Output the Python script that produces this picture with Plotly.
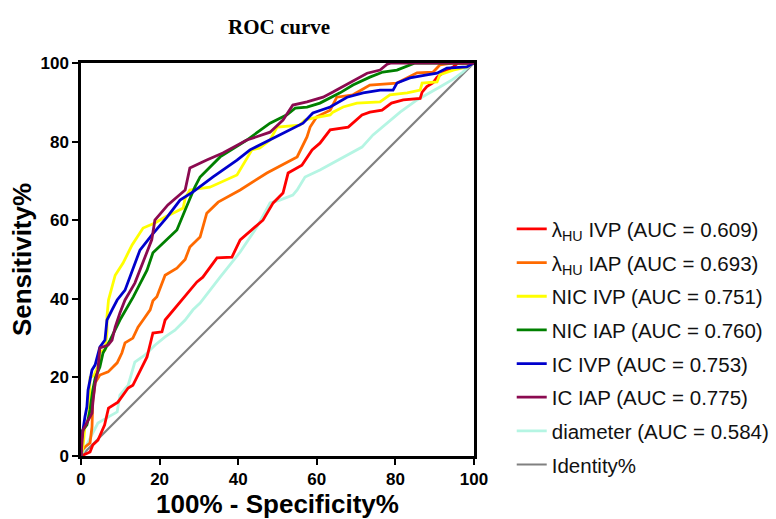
import plotly.graph_objects as go

# ROC curves: x = 100% - Specificity%, y = Sensitivity%
red_x = [0, 2.3, 3, 4.3, 6, 7, 9.4, 12, 13.2, 15.5, 16.8, 18.3, 20.6, 21.4, 24, 25.7, 29.5, 31, 34.6, 38.4, 40.5, 46.3, 48.9, 51.4, 52.7, 56.2, 58.8, 60.8, 63.4, 68, 71.5, 73.5, 76.6, 79, 82, 86.3, 86.8, 88, 89.6, 90.6, 92, 94.7, 96, 100]
red_y = [0, 1, 2.8, 4, 7.9, 12.2, 13.7, 17.3, 18, 22.7, 25.2, 31.3, 31.6, 34.6, 37.7, 39.7, 44.3, 45.5, 50.4, 50.6, 55, 60, 64.4, 66.9, 72, 74, 77.9, 79.6, 83, 83.7, 86.8, 87.5, 88, 89.8, 90.6, 91, 92.6, 94, 95, 96.4, 97.4, 99, 100, 100]

orange_x = [0, 0.3, 1, 2.3, 2.8, 3, 3.6, 4.8, 6.9, 9.2, 10.4, 11.2, 13.2, 14.5, 15.8, 17.6, 18.3, 19.3, 21.4, 24.4, 26.5, 27.7, 30.3, 32, 34.9, 40.5, 47.3, 55, 57.5, 58.3, 60, 63.4, 65.1, 69.2, 73.5, 80.4, 85.5, 89.6, 91.3, 94.4, 100]
orange_y = [0, 1.5, 2.3, 3.3, 7.4, 14.2, 18.6, 20.6, 21.4, 23.7, 26.2, 28.8, 30, 32.8, 34.6, 37.2, 39.5, 40.5, 46, 47.8, 50, 53.2, 55.7, 61.8, 64.6, 67.7, 72, 76.1, 81.2, 83.7, 86.3, 88, 91.3, 91.9, 94.4, 94.9, 97.5, 97.7, 99.5, 100, 100]

yellow_x = [0, 0.5, 1, 2, 2.3, 3.3, 4.8, 4.8, 6.1, 6.6, 6.6, 7, 8.7, 10.7, 13, 15.8, 18.8, 21.4, 23.9, 26, 26.5, 27.7, 32.8, 39.7, 43.5, 45.5, 48.1, 49.9, 55.7, 57, 59, 63.4, 64.1, 66.7, 70.2, 76.1, 78.6, 83, 86.3, 86.8, 90.6, 91.3, 94.7, 98.2, 100]
yellow_y = [0, 2.3, 7.4, 9.7, 20, 20.5, 24, 26.5, 27, 31.3, 35.4, 39.7, 46, 49.1, 53.7, 58, 59.3, 60.8, 62, 63.1, 65.6, 67.7, 68.4, 71.5, 77.9, 78.4, 80.4, 83.7, 84.2, 85.5, 86, 86.8, 87.5, 88.8, 89.8, 90.1, 91.9, 92.4, 93.1, 94.9, 95.2, 97, 98.2, 99, 100]

green_x = [0, 0, 1.5, 2.3, 3, 3.6, 4.8, 5.6, 7.4, 9.9, 13.3, 16.8, 18.3, 20.9, 24.4, 26.5, 29, 30.3, 35.4, 42.2, 48.1, 52.4, 54.5, 57.5, 60.8, 65.9, 69.2, 73.5, 76.8, 80.4, 83.7, 85, 100]
green_y = [0, 6, 7.9, 11.7, 16.8, 19.8, 22.6, 26.2, 29.5, 34.6, 40.5, 47.3, 51.7, 54.2, 57.5, 62.6, 68.5, 71, 76.1, 80.4, 84.7, 86.8, 88.5, 88.8, 89.8, 92.4, 94.4, 96.4, 97.7, 98.2, 99.5, 100, 100]

blue_x = [0, 0, 1, 1.5, 1.8, 2.8, 3.6, 4.8, 6.1, 6.6, 7.9, 9.2, 11.2, 15, 18, 21.9, 25.2, 28.5, 33.6, 39.7, 43, 47.3, 53.2, 56.5, 59, 63.4, 67.7, 71.8, 76.1, 79.4, 80.4, 83.7, 88, 90.6, 93.1, 98.2, 100]
blue_y = [0, 3.3, 9.9, 12.5, 16.8, 21.9, 23.2, 27.7, 29.5, 34.6, 37.2, 39.7, 42.2, 52.4, 56.2, 60.8, 65.1, 67.2, 71, 75.3, 77.9, 80, 83, 84.7, 87.3, 88.8, 91.3, 92.4, 93.1, 93.1, 94.9, 96.2, 97, 97.4, 98.7, 99, 100]

purple_x = [0, 0.5, 2.8, 3, 3.6, 4.3, 4.8, 6.9, 7.9, 8.7, 9.9, 11.2, 13.7, 16.8, 18, 18.8, 22.1, 26.5, 27.7, 32, 36.1, 42.2, 48.1, 51.4, 53.9, 57.5, 61.6, 64.1, 68.4, 72.8, 76.1, 77.9, 79, 100]
purple_y = [0, 6.6, 10.9, 13.5, 18.6, 21.9, 27.5, 28.2, 29.5, 32.8, 36.4, 39.7, 44, 51.7, 55, 60, 63.9, 67.7, 73.3, 75.3, 77.1, 80.4, 82.4, 85.5, 89.3, 90.1, 91.3, 92.6, 94.9, 97.4, 98.2, 99.7, 100, 100]

diam_x = [0, 1.5, 4.3, 6.9, 9.2, 9.9, 12, 13.7, 16.3, 18.8, 21.4, 23.9, 26.5, 28.5, 30.3, 35.4, 40.5, 44.8, 48.1, 50.6, 53.9, 55, 57, 60.8, 64.6, 67.9, 71.5, 74.3, 77.4, 81.2, 85.5, 88.8, 91.3, 94.4, 97.2, 98.5, 100]
diam_y = [0, 3, 8.4, 9.9, 11.2, 15.5, 18, 23.9, 25.7, 28.2, 30.3, 32, 34.6, 37.2, 38.9, 45.5, 51.9, 58.3, 64.4, 65.1, 66.4, 67.7, 71, 72.8, 74.8, 76.6, 78.6, 81.7, 84.2, 87.5, 90.6, 92.4, 93.9, 95.7, 97.7, 99, 100]

ident_x = [0, 100]
ident_y = [0, 100]

names = [
    "λ<sub>HU</sub> IVP (AUC = 0.609)",
    "λ<sub>HU</sub> IAP (AUC = 0.693)",
    "NIC IVP (AUC = 0.751)",
    "NIC IAP (AUC = 0.760)",
    "IC IVP (AUC = 0.753)",
    "IC IAP (AUC = 0.775)",
    "diameter (AUC = 0.584)",
    "Identity%",
]
colors = ["#ff0000", "#ff6a00", "#ffff00", "#008000", "#0000cc", "#8b0a50", "#b5f5e3", "#808080"]
series = [(red_x, red_y), (orange_x, orange_y), (yellow_x, yellow_y), (green_x, green_y),
          (blue_x, blue_y), (purple_x, purple_y), (diam_x, diam_y), (ident_x, ident_y)]

fig = go.Figure()
order = [7, 6, 0, 1, 2, 3, 4, 5]
for i in order:
    xs, ys = series[i]
    fig.add_trace(go.Scatter(
        x=xs, y=ys, mode="lines", name=names[i],
        line=dict(color=colors[i], width=2.8 if i != 7 else 2.2),
        legendgroup=str(i), legendrank=i + 1,
    ))

axis_common = dict(
    range=[0, 100], tickvals=[0, 20, 40, 60, 80, 100], automargin=False,
    showgrid=False, zeroline=False, showline=True, linecolor="black", linewidth=2.5,
    mirror=True, ticks="outside", ticklen=6, tickwidth=2, tickcolor="black",
    tickfont=dict(family="Liberation Sans, Arial", size=17, color="black", weight="bold"),
)

fig.update_layout(
    width=776, height=519,
    margin=dict(l=81, r=302, t=63, b=63, autoexpand=False),
    paper_bgcolor="white", plot_bgcolor="white",
    title=dict(text="<b>ROC curve</b>", x=(279 / 776), xanchor="center", y=1 - 27 / 519, yanchor="middle",
               font=dict(family="Liberation Serif, Times New Roman", size=21, color="black")),
    xaxis=dict(axis_common, title=dict(text="<b>100% - Specificity%</b>", standoff=8,
               font=dict(family="Liberation Sans, Arial", size=26, color="black"))),
    yaxis=dict(axis_common, title=dict(text="<b>Sensitivity%</b>", standoff=2,
               font=dict(family="Liberation Sans, Arial", size=26, color="black"))),
    legend=dict(x=1.096, xanchor="left", y=0.277, yanchor="middle", traceorder="grouped",
                tracegroupgap=4, bgcolor="rgba(0,0,0,0)",
                font=dict(family="Liberation Sans, Arial", size=20.5, color="#111111")),
    showlegend=True,
)

fig.write_html("out.html", config={"displayModeBar": False},
               post_script="document.body.style.margin='0px';document.body.style.padding='0px';")
